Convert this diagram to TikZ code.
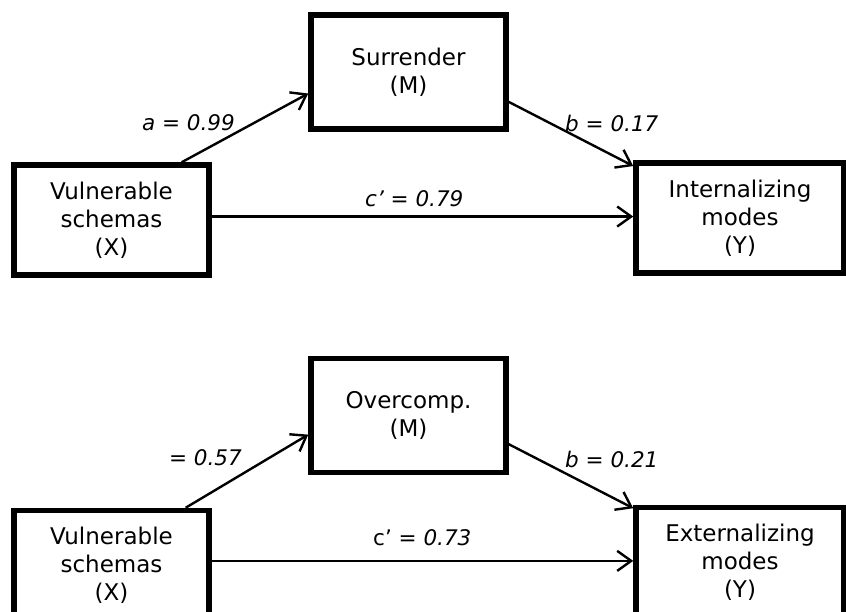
\documentclass[tikz,border=0pt]{standalone}
\usepackage{fontspec}
\setmainfont{DejaVu Sans}
\usetikzlibrary{calc}
\usetikzlibrary{positioning}
\usetikzlibrary{arrows.meta}

\begin{document}
\begin{tikzpicture}[x=1pt, y=-1pt,
    box/.style={rectangle, draw, line width=5.5pt, minimum width=195pt, minimum height=110pt,
      align=center, font=\fontsize{23}{28}\selectfont},
    mid/.style={box, minimum height=114pt},
    coef/.style={inner sep=0pt, font=\fontsize{21.5}{26}\selectfont\itshape},
    effect/.style={line width=2.4pt, -{Straight Barb[length=14pt,width=20pt]}}]

    \useasboundingbox (0,0) rectangle (846,611);

    % Define nodes
    \node[mid] (surr) at (408.5,72) {Surrender\\(M)};
    \node[box] (vulA) at (111.5,220) {Vulnerable\\schemas\\(X)};
    \node[box, minimum width=208pt] (intern) at (740,218) {Internalizing\\modes\\(Y)};
    \node[mid, below=224pt of surr] (overc) {Overcomp.\\(M)};
    \node[box, below=230pt of vulA] (vulB) {Vulnerable\\schemas\\(X)};
    \node[box, minimum width=208pt, below=229pt of intern] (extern) {Externalizing\\modes\\(Y)};

    % Coefficients
    \node[coef, anchor=east] (aA) at (235,123) {a = 0.99};
    \node[coef, anchor=west] (bA) at (565,123) {b = 0.17};
    \node[coef, anchor=west] (cA) at (365,199) {c’ = 0.79};
    \node[coef, anchor=east] (aB) at (242,458) {= 0.57};
    \node[coef, anchor=west] (bB) at (565,459) {b = 0.21};
    \node[coef, anchor=west, font=\fontsize{21.5}{26}\selectfont] (cB) at (373,538) {c’ = {\itshape 0.73}};

    % Start points of the direct paths
    \coordinate (dirA) at ($(vulA.north east)!0.47!(vulA.south east)$);
    \coordinate (dirB) at ($(vulB.north east)!0.46!(vulB.south east)$);

    % Connect the nodes
    \draw[effect] ($(vulA.north west)!0.85!(vulA.north east)$) -- ($(surr.north west)!0.68!(surr.south west)$);
    \draw[effect] ($(surr.north east)!0.75!(surr.south east)$) -- ($(intern.north west)!0.05!(intern.south west)$);
    \draw[effect] (dirA) -- (dirA -| intern.west);
    \draw[effect] ($(vulB.north west)!0.87!(vulB.north east)$) -- ($(overc.north west)!0.66!(overc.south west)$);
    \draw[effect] ($(overc.north east)!0.74!(overc.south east)$) -- ($(extern.north west)!0.03!(extern.south west)$);
    \draw[effect] (dirB) -- (dirB -| extern.west);

\end{tikzpicture}
\end{document}
